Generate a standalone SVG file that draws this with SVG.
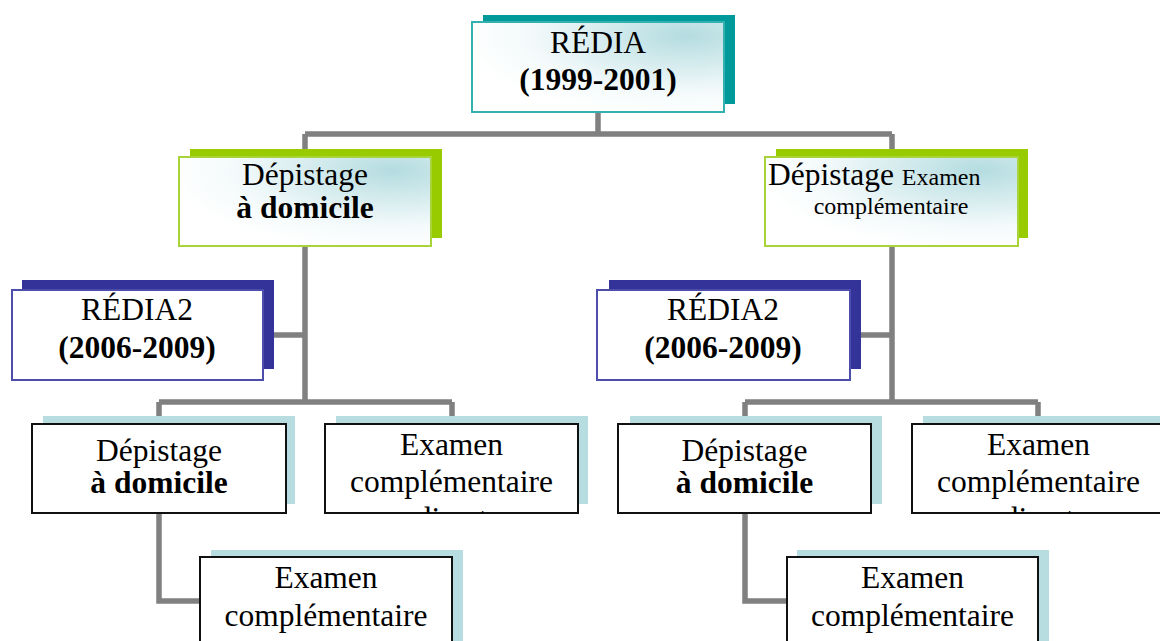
<svg xmlns="http://www.w3.org/2000/svg" width="1160" height="641" viewBox="0 0 1160 641">
<defs>
<radialGradient id="gl" cx="0.85" cy="0.15" r="0.9">
<stop offset="0" stop-color="#b4dce0"/>
<stop offset="0.7" stop-color="#f4fafb"/>
<stop offset="1" stop-color="#ffffff"/>
</radialGradient>
<clipPath id="clipL"><rect x="325" y="424" width="253" height="89"/></clipPath>
<clipPath id="clipR"><rect x="912" y="424" width="253" height="89"/></clipPath>
</defs>
<style>
.t{font-family:"Liberation Serif","Times New Roman",serif;font-size:31.5px;fill:#000;text-anchor:middle}
.b{font-weight:bold}
.sm{font-size:24px}
.con{fill:none;stroke:#808080;stroke-width:5.5}
.sh-teal{fill:#009999}
.sh-green{fill:#99cc00}
.sh-blue{fill:#333399}
.sh-lb{fill:#b7dde1}
.f-teal{fill:url(#gl);stroke:#33b0b0;stroke-width:2}
.f-green{fill:url(#gl);stroke:#a8d43a;stroke-width:2}
.f-blue{fill:#fff;stroke:#4d4dab;stroke-width:2}
.f-blk{fill:#fff;stroke:#111;stroke-width:2}
</style>
<rect width="1160" height="641" fill="#fff"/>
<g id="connectors">
<path class="con" d="M598,112 V134 M305,134 H892 M305,134 V157 M892,134 V157"/>
<path class="con" d="M305,246 V402 M263,335 H305 M159,402 H452 M159,402 V424 M452,402 V424"/>
<path class="con" d="M892,246 V402 M850,335 H892 M745,402 H1038 M745,402 V424 M1038,402 V424"/>
<path class="con" d="M159,513 V601 H200"/>
<path class="con" d="M745,513 V601 H787"/>
</g>
<g id="n-top">
<rect class="sh-teal" x="483" y="15" width="252" height="89"/>
<rect class="f-teal" x="472" y="22" width="252" height="90"/>
<text class="t" x="598" y="53">RÉDIA</text>
<text class="t b" x="598" y="90">(1999-2001)</text>
</g>
<g id="n-l2-left">
<rect class="sh-green" x="190" y="149" width="252" height="89"/>
<rect class="f-green" x="179" y="157" width="252" height="89"/>
<text class="t" x="305" y="185">Dépistage</text>
<text class="t b" x="305" y="218">à domicile</text>
</g>
<g id="n-l2-right">
<rect class="sh-green" x="776" y="149" width="252" height="89"/>
<rect class="f-green" x="765" y="157" width="253" height="89"/>
<text class="t" x="768" y="185" style="text-anchor:start">Dépistage <tspan class="sm">Examen</tspan></text>
<text class="t sm" x="891" y="214">complémentaire</text>
</g>
<g id="n-r2-left">
<rect class="sh-blue" x="22" y="280" width="252" height="89"/>
<rect class="f-blue" x="12" y="290" width="251" height="90"/>
<text class="t" x="137" y="320">RÉDIA2</text>
<text class="t b" x="137" y="358">(2006-2009)</text>
</g>
<g id="n-r2-right">
<rect class="sh-blue" x="609" y="280" width="252" height="89"/>
<rect class="f-blue" x="597" y="290" width="253" height="90"/>
<text class="t" x="723" y="320">RÉDIA2</text>
<text class="t b" x="723" y="358">(2006-2009)</text>
</g>
<g id="n-dep-left">
<rect class="sh-lb" x="43" y="416" width="252" height="88"/>
<rect class="f-blk" x="32" y="424" width="254" height="89"/>
<text class="t" x="159" y="461">Dépistage</text>
<text class="t b" x="159" y="493">à domicile</text>
</g>
<g id="n-exd-left">
<rect class="sh-lb" x="336" y="416" width="252" height="88"/>
<rect class="f-blk" x="325" y="424" width="253" height="89"/>
<text class="t" x="451.5" y="455">Examen</text>
<text class="t" x="451.5" y="492">complémentaire</text>
<text class="t" x="451.5" y="529" clip-path="url(#clipL)">direct</text>
</g>
<g id="n-exc-left">
<rect class="sh-lb" x="211" y="550" width="252" height="100"/>
<rect class="f-blk" x="200" y="557" width="252" height="100"/>
<text class="t" x="326" y="588">Examen</text>
<text class="t" x="326" y="626">complémentaire</text>
</g>
<g id="n-dep-right">
<rect class="sh-lb" x="630" y="416" width="252" height="88"/>
<rect class="f-blk" x="618" y="424" width="253" height="89"/>
<text class="t" x="744.5" y="461">Dépistage</text>
<text class="t b" x="744.5" y="493">à domicile</text>
</g>
<g id="n-exd-right">
<rect class="sh-lb" x="923" y="416" width="253" height="88"/>
<rect class="f-blk" x="912" y="424" width="253" height="89"/>
<text class="t" x="1038.5" y="455">Examen</text>
<text class="t" x="1038.5" y="492">complémentaire</text>
<text class="t" x="1038.5" y="529" clip-path="url(#clipR)">direct</text>
</g>
<g id="n-exc-right">
<rect class="sh-lb" x="797" y="550" width="252" height="100"/>
<rect class="f-blk" x="787" y="557" width="251" height="100"/>
<text class="t" x="912.5" y="588">Examen</text>
<text class="t" x="912.5" y="626">complémentaire</text>
</g>
</svg>
